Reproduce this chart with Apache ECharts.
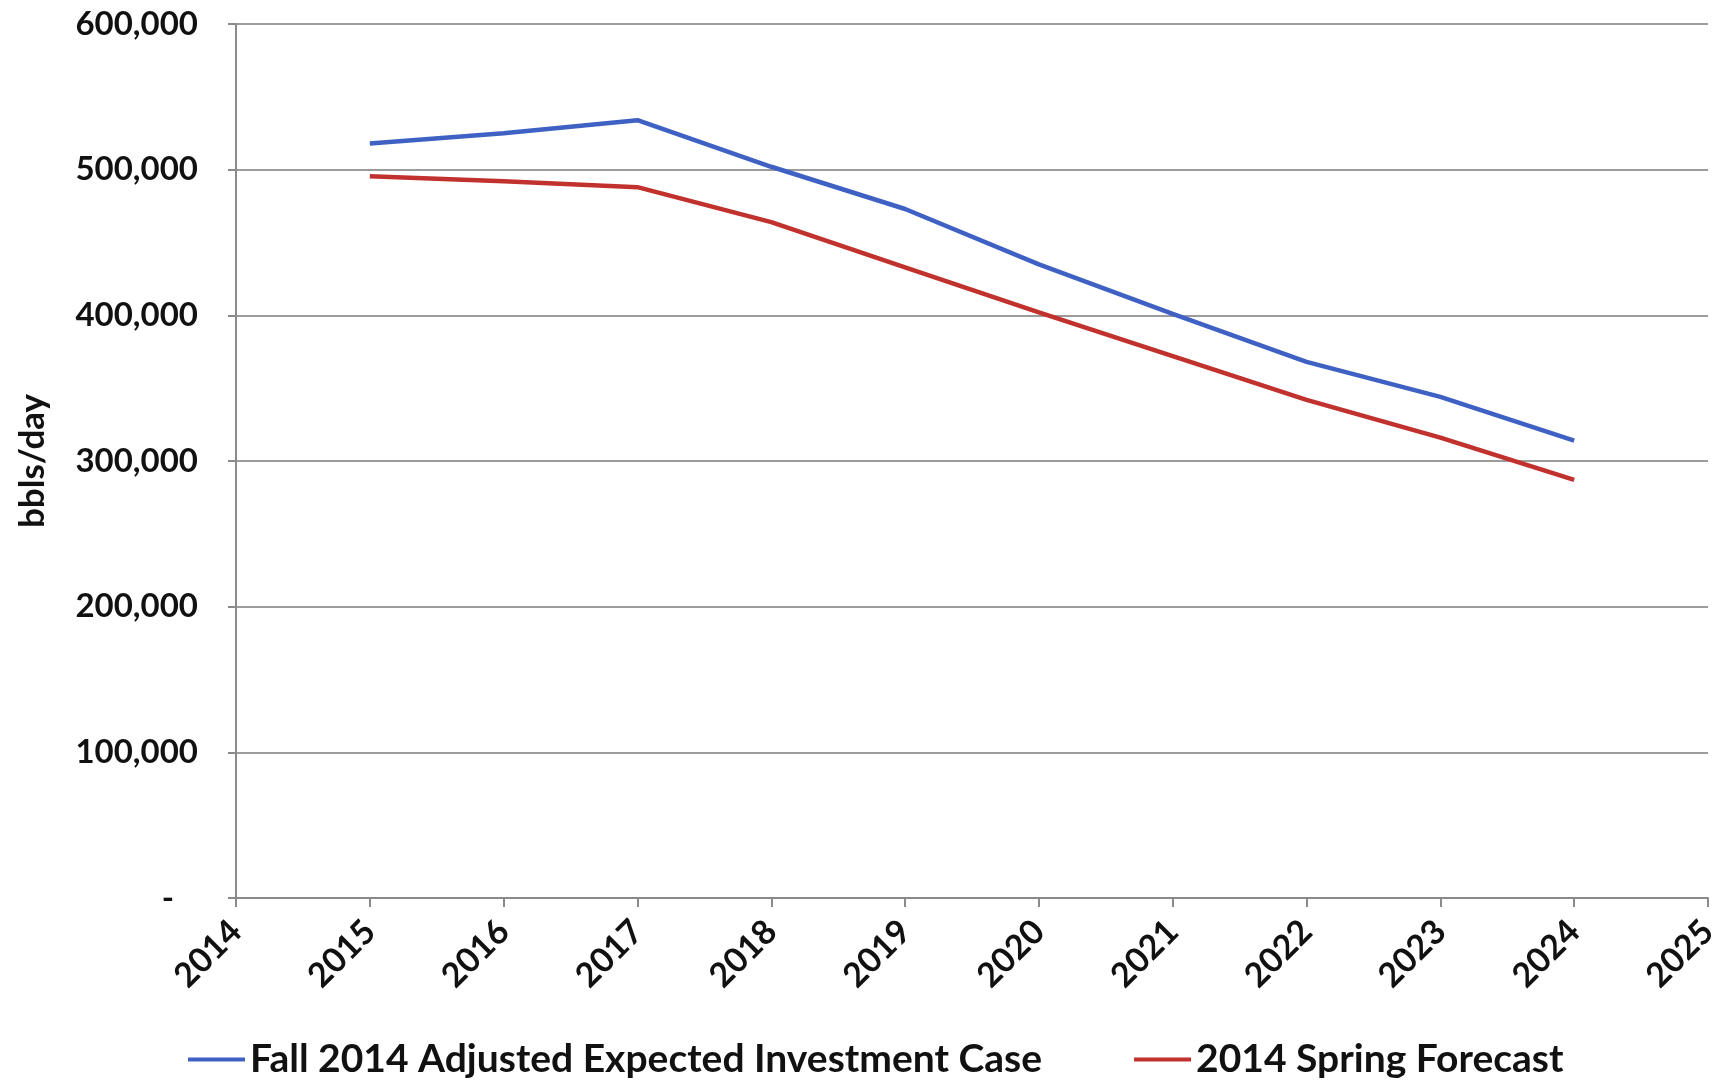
<!DOCTYPE html>
<html>
<head>
<meta charset="utf-8">
<script src="https://cdn.jsdelivr.net/npm/echarts@6/dist/echarts.min.js"></script>
<style>
  html, body { margin: 0; padding: 0; background: #fff; }
  #chart { width: 1726px; height: 1082px; }
</style>
</head>
<body>
<div id="chart"></div>
<script>
// years on the x axis
var years = [2015, 2016, 2017, 2018, 2019, 2020, 2021, 2022, 2023, 2024];
// bbls/day
var fallAdjusted = [518000, 525000, 534000, 502000, 473000, 435000, 401000, 368000, 344000, 314000];
var springForecast = [495500, 492000, 488000, 464000, 433000, 402000, 372000, 342000, 316000, 287000];
var seriesNames = ['Fall 2014 Adjusted Expected Investment Case', '2014 Spring Forecast'];

var chart = echarts.init(document.getElementById('chart'));

function pairs(vals) {
    return years.map(function (y, i) { return [y, vals[i]]; });
}

var font = 'Lato, "Open Sans", sans-serif';

var option = {
    animation: false,
    backgroundColor: '#fff',
    grid: { left: 236, right: 18, top: 24, bottom: 184, containLabel: false },
    legend: {
        left: 183,
        bottom: -2,
        itemWidth: 57,
        itemHeight: 4,
        itemGap: 92,
        icon: 'rect',
        textStyle: { fontFamily: font, fontWeight: 'bold', fontSize: 39, color: '#111' },
        data: seriesNames
    },
    xAxis: {
        type: 'value',
        min: 2014,
        max: 2025,
        interval: 1,
        axisLine: { lineStyle: { color: '#8a8a8a', width: 2 } },
        axisTick: { show: true, length: 9, lineStyle: { color: '#8a8a8a', width: 2 } },
        splitLine: { show: false },
        axisLabel: {
            rotate: 45,
            margin: 28,
            fontFamily: font,
            fontWeight: 'bold',
            fontSize: 34,
            color: '#111',
            formatter: function (v) { return String(v); }
        }
    },
    yAxis: {
        type: 'value',
        min: 0,
        max: 600000,
        interval: 100000,
        name: 'bbls/day',
        nameLocation: 'middle',
        nameGap: 186,
        nameTextStyle: { fontFamily: font, fontWeight: 'bold', fontSize: 35, color: '#111' },
        axisLine: { show: true, lineStyle: { color: '#8a8a8a', width: 2 } },
        axisTick: { show: true, length: 8, lineStyle: { color: '#8a8a8a', width: 2 } },
        splitLine: { show: true, lineStyle: { color: '#9c9c9c', width: 2 } },
        axisLabel: {
            margin: 38,
            fontFamily: font,
            fontWeight: 'bold',
            fontSize: 33,
            color: '#111',
            formatter: function (v) {
                if (v === 0) return '-   ';
                return v.toLocaleString('en-US');
            }
        }
    },
    series: [{
        name: seriesNames[0],
        type: 'line',
        data: pairs(fallAdjusted),
        showSymbol: false,
        color: '#3f61c4',
        lineStyle: { width: 4.5, color: '#3f61c4' }
    }, {
        name: seriesNames[1],
        type: 'line',
        data: pairs(springForecast),
        showSymbol: false,
        color: '#c1322e',
        lineStyle: { width: 4.5, color: '#c1322e' }
    }]
};
chart.setOption(option);
</script>
</body>
</html>
